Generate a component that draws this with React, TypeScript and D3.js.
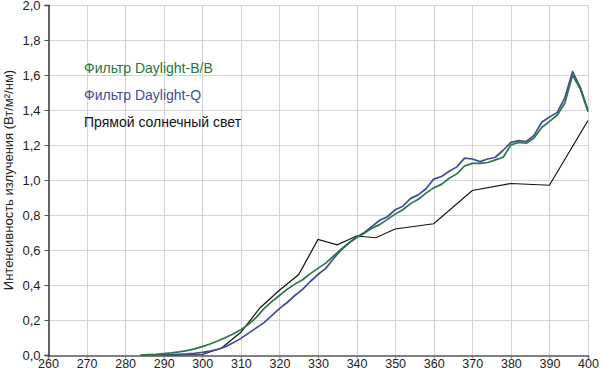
import React, { useEffect, useRef } from 'react';
import * as d3 from 'd3';

const wavelengths = [
  284, 286, 288, 290, 292, 294, 296, 298, 300, 302, 304, 306, 308, 310, 312, 314, 316, 318, 320, 322,
  324, 326, 328, 330, 332, 334, 336, 338, 340, 342, 344, 346, 348, 350, 352, 354, 356, 358, 360, 362,
  364, 366, 368, 370, 372, 374, 376, 378, 380, 382, 384, 386, 388, 390, 392, 394, 396, 398, 400,
];

const daylightBB = [
  0, 0.002, 0.004, 0.008, 0.012, 0.018, 0.025, 0.035, 0.048, 0.063, 0.08, 0.1, 0.12, 0.145, 0.175, 0.215, 0.265, 0.305, 0.34, 0.375,
  0.405, 0.43, 0.465, 0.495, 0.525, 0.565, 0.605, 0.64, 0.67, 0.695, 0.725, 0.745, 0.775, 0.805, 0.83, 0.865, 0.89, 0.925, 0.955, 0.975,
  1.01, 1.035, 1.08, 1.095, 1.095, 1.1, 1.115, 1.13, 1.2, 1.215, 1.21, 1.24, 1.3, 1.335, 1.37, 1.44, 1.6, 1.52, 1.39,
];

const daylightQ = [
  0, 0, 0, 0.001, 0.002, 0.004, 0.006, 0.01, 0.015, 0.022, 0.032, 0.047, 0.07, 0.095, 0.125, 0.155, 0.185, 0.225, 0.265, 0.3,
  0.34, 0.375, 0.42, 0.46, 0.495, 0.55, 0.6, 0.64, 0.675, 0.7, 0.735, 0.77, 0.79, 0.83, 0.85, 0.895, 0.915, 0.95, 1.005, 1.02,
  1.05, 1.075, 1.125, 1.12, 1.105, 1.12, 1.13, 1.17, 1.215, 1.225, 1.22, 1.255, 1.33, 1.36, 1.385, 1.47, 1.62, 1.53, 1.4,
];

const sunWavelengths = [290, 300, 305, 310, 315, 320, 325, 330, 335, 340, 345, 350, 360, 370, 380, 390, 400];
const sunValues = [0, 0.003, 0.04, 0.13, 0.27, 0.37, 0.46, 0.66, 0.63, 0.68, 0.67, 0.72, 0.75, 0.94, 0.98, 0.97, 1.34];

const xTicks = [260, 270, 280, 290, 300, 310, 320, 330, 340, 350, 360, 370, 380, 390, 400];
const yTicks = [0, 0.2, 0.4, 0.6, 0.8, 1.0, 1.2, 1.4, 1.6, 1.8, 2.0];

const legendLabels = ['Фильтр Daylight-B/B', 'Фильтр Daylight-Q', 'Прямой солнечный свет'];
const seriesColors = ['#2b7547', '#424d98', '#111111'];

const W = 602;
const H = 372;
const margin = { left: 48, right: 14, top: 5, bottom: 17 };

const App: React.FC = () => {
  const svgRef = useRef<SVGSVGElement | null>(null);

  useEffect(() => {
    if (!svgRef.current) return;
    const svg = d3.select(svgRef.current);
    svg.selectAll('*').remove();

    const font = "'Liberation Sans', Arial, sans-serif";
    const x = d3.scaleLinear().domain([260, 400]).range([margin.left, W - margin.right]);
    const y = d3.scaleLinear().domain([0, 2]).range([H - margin.bottom, margin.top]);

    // grid
    const grid = svg.append('g').attr('stroke', '#d4d4d4').attr('stroke-width', 1);
    xTicks.slice(1).forEach(t => {
      grid.append('line')
        .attr('x1', Math.round(x(t)) + 0.5).attr('x2', Math.round(x(t)) + 0.5)
        .attr('y1', y(2)).attr('y2', y(0));
    });
    yTicks.slice(1).forEach(t => {
      grid.append('line')
        .attr('x1', x(260)).attr('x2', x(400))
        .attr('y1', Math.round(y(t)) + 0.5).attr('y2', Math.round(y(t)) + 0.5);
    });

    // axes
    const xAxis = svg.append('g')
      .attr('transform', `translate(0,${Math.round(y(0)) + 0.5})`)
      .call(d3.axisBottom(x).tickValues(xTicks).tickSize(3).tickPadding(1).tickFormat(d3.format('d')));
    xAxis.select('.domain').attr('stroke', '#555').attr('stroke-width', 1.5);
    xAxis.selectAll('.tick line').attr('stroke', '#777');
    xAxis.selectAll('text').attr('font-family', font).attr('font-size', 12.5).attr('fill', '#222');

    const yAxis = svg.append('g')
      .attr('transform', `translate(${Math.round(x(260)) + 0.5},0)`)
      .call(d3.axisLeft(y).tickValues(yTicks).tickSize(4).tickPadding(4)
        .tickFormat(d => d3.format('.1f')(d as number).replace('.', ',')));
    yAxis.select('.domain').attr('stroke', '#111').attr('stroke-width', 1.3);
    yAxis.selectAll('.tick line').attr('stroke', '#555');
    yAxis.selectAll('text').attr('font-family', font).attr('font-size', 13).attr('fill', '#222');

    svg.append('text')
      .attr('transform', `translate(13,${(y(0) + y(2)) / 2}) rotate(-90)`)
      .attr('text-anchor', 'middle')
      .attr('font-family', font)
      .attr('font-size', 13)
      .attr('fill', '#222')
      .text('Интенсивность излучения (Вт/м²/нм)');

    const line = d3.line<[number, number]>()
      .x(d => x(d[0]))
      .y(d => y(d[1]));

    const bb = wavelengths.map((w, i) => [w, daylightBB[i]] as [number, number]);
    const q = wavelengths.map((w, i) => [w, daylightQ[i]] as [number, number]);
    const sun = sunWavelengths.map((w, i) => [w, sunValues[i]] as [number, number]);

    svg.append('path').datum(sun).attr('d', line).attr('fill', 'none')
      .attr('stroke', seriesColors[2]).attr('stroke-width', 1.2);
    svg.append('path').datum(q).attr('d', line).attr('fill', 'none')
      .attr('stroke', seriesColors[1]).attr('stroke-width', 1.7).attr('stroke-linejoin', 'round');
    svg.append('path').datum(bb).attr('d', line).attr('fill', 'none')
      .attr('stroke', seriesColors[0]).attr('stroke-width', 1.7).attr('stroke-linejoin', 'round');

    // legend
    legendLabels.forEach((label, i) => {
      svg.append('text')
        .attr('x', 84)
        .attr('y', 73 + i * 27)
        .attr('font-family', font)
        .attr('font-size', 14)
        .attr('fill', i === 2 ? '#111' : seriesColors[i])
        .text(label);
    });
  }, []);

  return (
    <svg ref={svgRef} width={W} height={H} style={{ position: 'absolute', left: 0, top: 0, background: '#fff' }} />
  );
};

export default App;
